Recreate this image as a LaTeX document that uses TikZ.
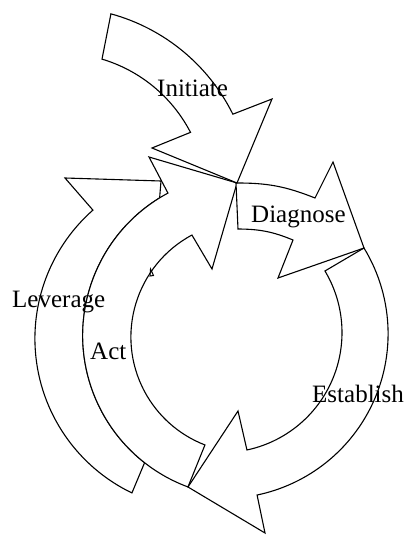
\documentclass[tikz,border=0pt]{standalone}
\usepackage{fontspec}
\setmainfont{Liberation Serif}
\usetikzlibrary{calc}
\begin{document}
\begin{tikzpicture}[x=1pt,y=1pt,
  arrowshape/.style={draw=black,fill=white,line width=1.1pt,line join=miter},
  lbl/.style={anchor=base west,inner sep=0pt,font=\fontsize{25}{30}\selectfont}]
\useasboundingbox (0,0) rectangle (406,-535);
\coordinate (cI) at (60,-200);
\coordinate (cA) at (206.2,-338.6);
\coordinate (cB) at (244.3,-335.5);
\coordinate (cC) at (246.6,-337);
\coordinate (cEo) at (223.4,-333.8);
\coordinate (cEi) at (222,-332.6);
% Leverage
\path[arrowshape] ($(cA)+(244.3:171.3pt)$) arc[start angle=244.3,end angle=131.4,radius=171.3pt]
  -- (65,-178) -- (161,-181) -- ($(cB)+(121.6:161.6pt)$)
  arc[start angle=121.6,end angle=231.9,radius=161.6pt] -- cycle;
% Act
\path[arrowshape] ($(cB)+(249.6:161.6pt)$) arc[start angle=249.6,end angle=118.2,radius=161.6pt]
  -- (149,-157) -- (237,-183) -- (212,-269) -- ($(cC)+(118.2:115.7pt)$)
  arc[start angle=118.2,end angle=248.9,radius=115.7pt] -- cycle;
\draw[line width=1pt,line join=miter] (150.5,-269) -- (153.5,-275.5) -- (150,-276) -- cycle;
% Establish
\path[arrowshape] ($(cEo)+(31.4:164.7pt)$) arc[start angle=31.4,end angle=-78.2,radius=164.7pt]
  -- (265,-533) -- (188,-487) -- (238,-411) -- ($(cEi)+(-78:120pt)$)
  arc[start angle=-78,end angle=30.9,radius=120pt] -- cycle;
% Diagnose
\path[arrowshape] (236,-183) to[bend left=11] (315,-198) -- (333,-162) -- (364,-248)
  -- (278,-278) -- (293,-240) to[bend right=11] (238,-229) -- cycle;
% Initiate
\path[arrowshape] ($(cI)+(74.7:193pt)$) arc[start angle=74.7,end angle=26.4,radius=193pt]
  -- (272,-99) -- (237,-183) -- (152,-148) -- ($(cI)+(27.4:147pt)$)
  arc[start angle=27.4,end angle=73.4,radius=147pt] -- cycle;
% labels
\node[lbl] (tInitiate) at (157,-96) {Initiate};
\node[lbl] (tDiagnose) at (251,-222) {Diagnose};
\node[lbl] (tLeverage) at (12,-307) {Leverage};
\node[lbl] (tAct) at (90,-359) {Act};
\node[lbl] (tEstablish) at (312,-402) {Establish};
\end{tikzpicture}
\end{document}
